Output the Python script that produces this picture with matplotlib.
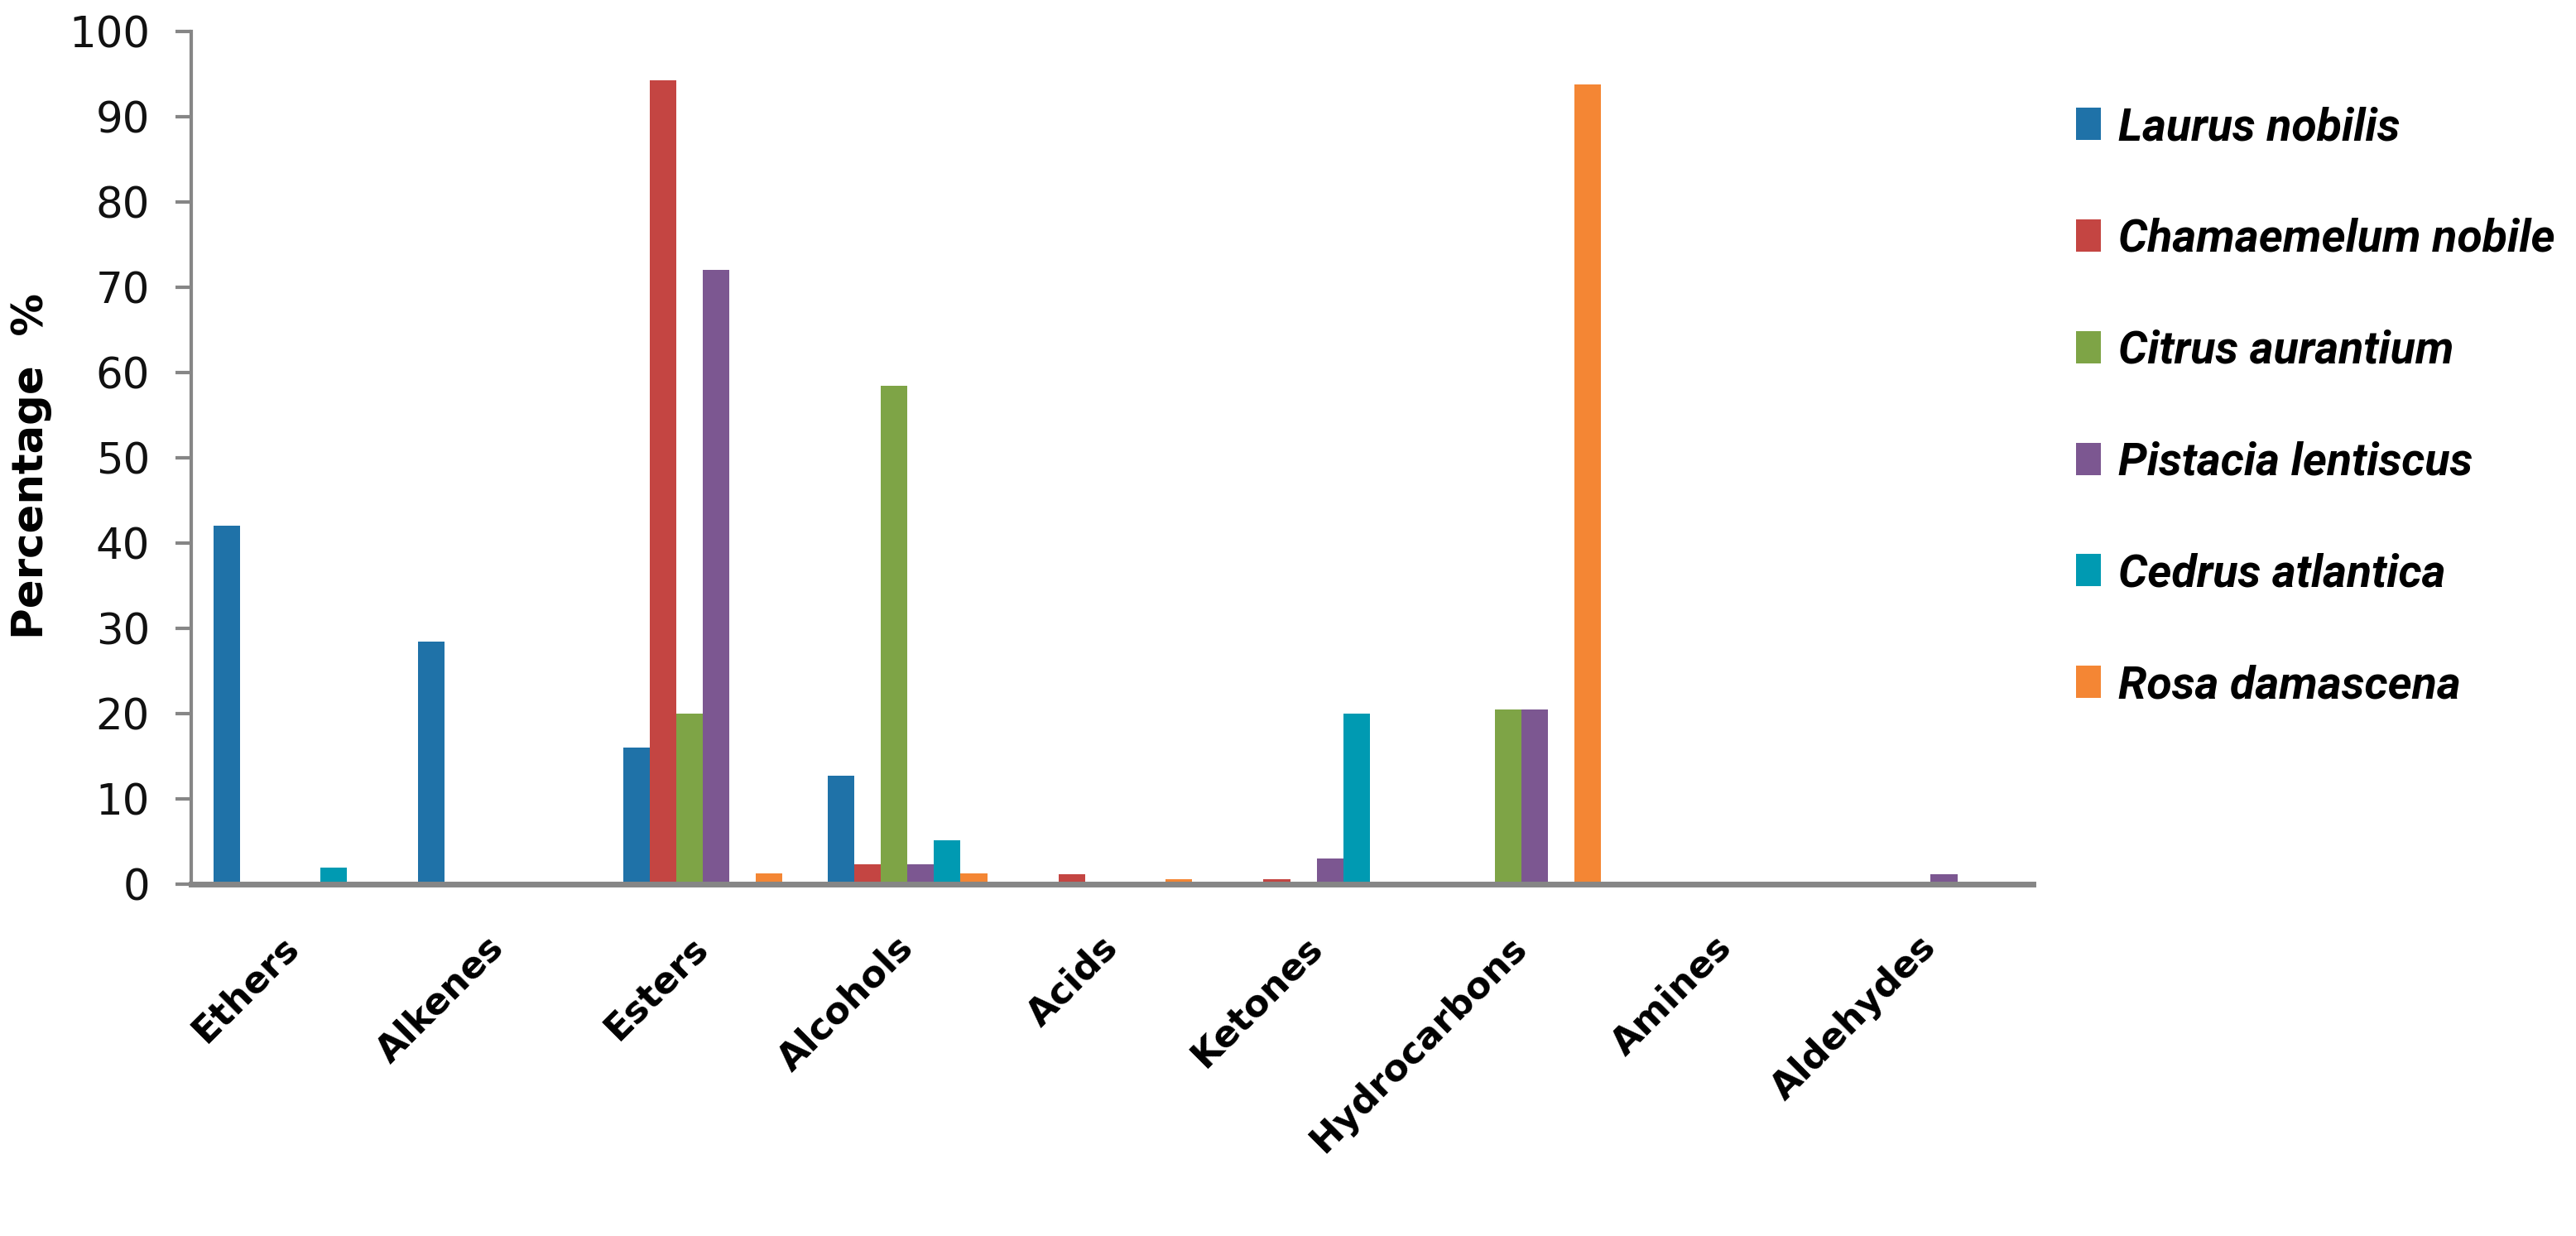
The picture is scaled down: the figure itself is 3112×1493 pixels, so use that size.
import matplotlib

matplotlib.use("Agg")
import matplotlib.pyplot as plt
import numpy as np
from matplotlib.patches import Patch


categories = ["Ethers", "Alkenes", "Esters", "Alcohols", "Acids",
              "Ketones", "Hydrocarbons", "Amines", "Aldehydes"]

species = ["Laurus nobilis", "Chamaemelum nobile", "Citrus aurantium",
           "Pistacia lentiscus", "Cedrus atlantica", "Rosa damascena"]

laurus = [42.0, 28.4, 16.0, 12.7, 0, 0, 0, 0, 0]
chamaemelum = [0, 0, 94.3, 2.3, 1.2, 0.6, 0, 0, 0]
citrus = [0, 0, 20.0, 58.4, 0, 0, 20.5, 0, 0]
pistacia = [0, 0, 72.0, 2.3, 0, 3.0, 20.5, 0, 1.2]
cedrus = [1.9, 0, 0, 5.1, 0, 20.0, 0, 0, 0]
rosa = [0, 0, 1.3, 1.3, 0.6, 0, 93.8, 0, 0]

colors = ["#1F72A8", "#C44542", "#7EA446", "#7C5791", "#009AB2", "#F48634"]

series = [laurus, chamaemelum, citrus, pistacia, cedrus, rosa]

fig = plt.figure(figsize=(31.12, 14.93), dpi=100)
ax = fig.add_axes([0.0742, 0.2847, 0.715, 0.6898])

x = np.arange(len(categories))
bar_w = 0.13
for i, (vals, col) in enumerate(zip(series, colors)):
    ax.bar(x + (i - 2.5) * bar_w, vals, width=bar_w, color=col,
           label=species[i], linewidth=0)

ax.set_xlim(-0.5, len(categories) - 0.5)
ax.set_ylim(0, 100)
ax.set_yticks(np.arange(0, 101, 10))

for side in ["top", "right"]:
    ax.spines[side].set_visible(False)
ax.spines["left"].set_color("#868686")
ax.spines["left"].set_linewidth(3)
ax.spines["bottom"].set_color("#868686")
ax.spines["bottom"].set_linewidth(5)
ax.spines["bottom"].set_zorder(5)

ax.tick_params(axis="y", length=14, width=3, color="#868686", pad=22,
               labelsize=37, labelcolor="#111111")
ax.tick_params(axis="x", length=0, pad=50)
ax.set_xticks(x)
ax.set_xticklabels(categories, rotation=45, ha="right", va="center",
                   rotation_mode="anchor", fontsize=32, fontweight="bold")

fig.text(38 / 3112, 1 - 563 / 1493, "Percentage  %", rotation=90,
         ha="center", va="center", fontsize=37, fontweight="bold")

handles = [Patch(facecolor=c, edgecolor="none") for c in colors]
leg = ax.legend(handles, species, loc="upper left",
                bbox_to_anchor=(2486 / 3112, 1 - 106 / 1493),
                bbox_transform=fig.transFigure, frameon=False,
                prop={"family": ["Roboto", "DejaVu Sans"],
                      "style": "italic", "weight": "bold", "size": 40},
                handlelength=0.54, handleheight=0.7, handletextpad=0.38,
                labelspacing=1.49, borderaxespad=0)

fig.savefig("out.png", dpi=100, facecolor="white")
plt.close(fig)
